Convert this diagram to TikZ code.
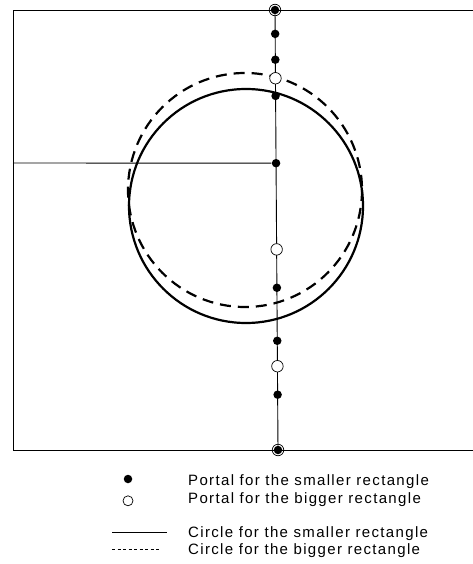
\documentclass[tikz,border=0pt]{standalone}
\usepackage{fontspec}
\setmainfont{Liberation Sans}[LetterSpace=9]
\usetikzlibrary{positioning}

\begin{document}
\begin{tikzpicture}[x=1pt,y=-1pt,
 every node/.style={font=\fontsize{15}{18}\selectfont},
 edge/.style={line width=0.9pt},
 portal/.style={circle,fill,inner sep=0pt,minimum size=8.5pt},
 bigportal/.style={circle,draw,inner sep=0pt,minimum size=11.5pt,line width=0.7pt},
 smallcirc/.style={line width=2.2pt},
 bigcirc/.style={line width=2.2pt,dash pattern=on 11pt off 7pt},
 legtext/.style={anchor=base west,inner sep=0pt}]
\useasboundingbox (0,0) rectangle (473,564);
% the two rectangles
\coordinate (tl) at (13,10);
\coordinate (tr) at (473,10);
\coordinate (bl) at (13,450);
\coordinate (br) at (473,450);
\coordinate (ml) at (13,163);
\draw[edge] (tr) -- (tl) -- (bl) -- (br);
% circles
\draw[smallcirc] (246,206) circle[radius=117];
\draw[bigcirc] (245,190) circle[radius=117];
% portals on the cut line
\node[portal] (top) at (275,10) {};
\node[bigportal] (topring) at (top) {};
\node[portal] (bot) at (278,450) {};
\node[bigportal] (botring) at (bot) {};
\draw[edge] (top) -- (bot)
 node[portal,pos=0.045] (s1) {}
 node[portal,pos=0.105] (s2) {}
 node[bigportal,fill=white,pos=0.148] (b1) {}
 node[portal,pos=0.189] (s3) {}
 node[portal,pos=0.345] (s4) {}
 node[bigportal,fill=white,pos=0.545] (b2) {}
 node[portal,pos=0.634] (s5) {}
 node[portal,pos=0.757] (s6) {}
 node[bigportal,fill=white,pos=0.816] (b3) {}
 node[portal,pos=0.882] (s7) {};
\draw[edge] (ml) -- (s4);
% legend
\node[portal] (kfill) at (128,479) {};
\node[bigportal,minimum size=10pt,below=12pt of kfill] (kopen) {};
\node[legtext] (tfill) at (188,485) {Portal for the smaller rectangle};
\node[legtext] (topen) at (188,503) {Portal for the bigger rectangle};
\coordinate (k0) at (112,532);
\coordinate[right=55pt of k0] (k1);
\draw[line width=0.8pt] (k0) -- (k1);
\coordinate (d0) at (112,549);
\coordinate[right=48pt of d0] (d1);
\draw[line width=0.8pt,dash pattern=on 3pt off 2.5pt] (d0) -- (d1);
\node[legtext] (tsolid) at (188,537) {Circle for the smaller rectangle};
\node[legtext] (tdash) at (188,554) {Circle for the bigger rectangle};
\end{tikzpicture}
\end{document}
